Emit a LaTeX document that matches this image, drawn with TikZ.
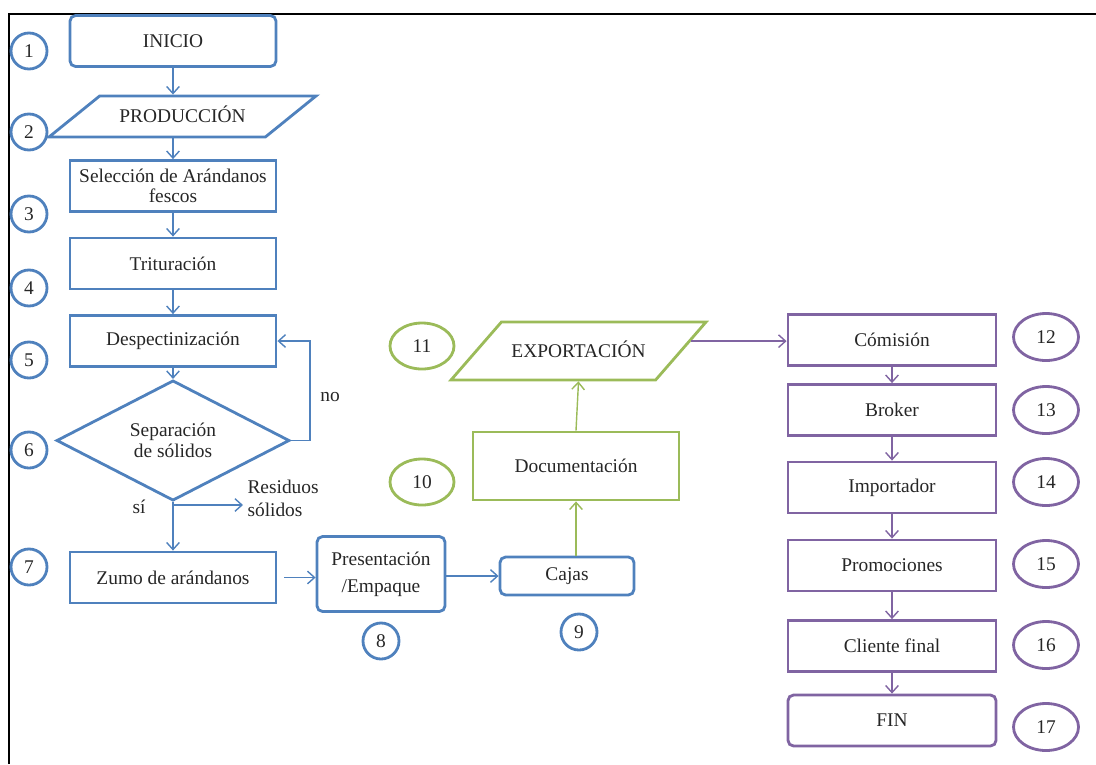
\documentclass[tikz,border=0pt]{standalone}
\usepackage{fontspec}
\setmainfont{Liberation Serif}
\usetikzlibrary{shapes.geometric,arrows.meta}
\definecolor{azul}{RGB}{79,129,189}
\definecolor{verde}{RGB}{155,187,89}
\definecolor{morado}{RGB}{128,100,162}

\begin{document}
\begin{tikzpicture}[x=0.025cm,y=-0.025cm,
  every node/.style={text=black!85,font=\fontsize{13.8}{14.5}\selectfont},
  caja/.style={rectangle,draw=#1,line width=2pt,align=center,inner sep=1pt,
    minimum width=5.15cm,minimum height=1.275cm},
  redonda/.style={caja=#1,rounded corners=4pt},
  datos/.style={trapezium,draw=#1,line width=2pt,inner xsep=1pt,inner ysep=0pt,trapezium stretches body},
  decision/.style={diamond,draw=azul,line width=2pt,align=center,inner sep=0pt,
    minimum width=5.825cm,minimum height=2.325cm},
  num/.style={circle,draw=azul,line width=2pt,minimum size=0.9cm,inner sep=0pt},
  elip/.style={ellipse,draw=#1,line width=2pt,minimum width=1.6cm,minimum height=1.15cm,inner sep=0pt},
  flecha/.style={draw=#1,line width=1pt,-{Straight Barb[length=5pt,width=9pt]}}]
\useasboundingbox (0,0) rectangle (1096,764);
\draw[line width=1pt] (9,764) -- (9,14) -- (1096,14);

\node[redonda=azul] (n1) at (173,41) {INICIO};
\node[datos=azul,trapezium left angle=39,trapezium right angle=141,
  text height=19.2pt,text depth=10pt,minimum width=6.675cm] (n2) at (182.5,116.5) {PRODUCCIÓN};
\node[caja=azul] (n3) at (173,186) {Selección de Arándanos\\fescos};
\node[caja=azul] (n4) at (173,263.5) {Trituración};
\node[caja=azul] (n5) at (173,341) {Despectinización};
\node[decision] (n6) at (173,440.5) {Separación\\de sólidos};
\node[caja=azul] (n7) at (173,577.5) {Zumo de arándanos};
\node[redonda=azul,minimum width=3.2cm,minimum height=1.875cm,
  font=\fontsize{13.8}{19}\selectfont] (n8) at (381,574) {Presentación\\/Empaque};
\node[redonda=azul,minimum width=3.35cm,minimum height=0.95cm] (n9) at (567,576) {Cajas};
\node[caja=verde,minimum height=1.7cm] (n10) at (576,466) {Documentación};
\node[datos=verde,trapezium left angle=49,trapezium right angle=131,
  text height=25.25pt,text depth=16.05pt,minimum width=6.375cm] (n11) at (578.5,351) {EXPORTACIÓN};
\node[caja=morado,minimum width=5.2cm] (n12) at (892,340) {Cómisión};
\node[caja=morado,minimum width=5.2cm] (n13) at (892,410) {Broker};
\node[caja=morado,minimum width=5.2cm] (n14) at (892,487.5) {Importador};
\node[caja=morado,minimum width=5.2cm] (n15) at (892,565.5) {Promociones};
\node[caja=morado,minimum width=5.2cm] (n16) at (892,646) {Cliente final};
\node[redonda=morado,minimum width=5.2cm] (n17) at (892,720.5) {FIN};

\node (no) at (330,397) {no};
\node (si) at (139,507) {sí};
\node[anchor=west,align=left,inner sep=3pt,font=\fontsize{13.8}{16.4}\selectfont] (res) at (243,498) {Residuos\\sólidos};
\coordinate (r) at (173,505);

\node[num] (c1) at (29,51) {1};
\node[num] (c2) at (29,132) {2};
\node[num] (c3) at (29,214) {3};
\node[num] (c4) at (29,288) {4};
\node[num] (c5) at (29,360) {5};
\node[num] (c6) at (29,450) {6};
\node[num] (c7) at (29,567) {7};
\node[num] (c8) at (381,641) {8};
\node[num] (c9) at (579,632) {9};
\node[elip=verde] (c10) at (422,482) {10};
\node[elip=verde] (c11) at (422,346) {11};
\node[elip=morado,minimum width=1.625cm,minimum height=1.175cm] (c12) at (1046,337) {12};
\node[elip=morado,minimum width=1.625cm,minimum height=1.175cm] (c13) at (1046,410) {13};
\node[elip=morado,minimum width=1.625cm,minimum height=1.175cm] (c14) at (1046,482) {14};
\node[elip=morado,minimum width=1.625cm,minimum height=1.175cm] (c15) at (1046,564) {15};
\node[elip=morado,minimum width=1.625cm,minimum height=1.175cm] (c16) at (1046,645) {16};
\node[elip=morado,minimum width=1.625cm,minimum height=1.175cm] (c17) at (1046,727) {17};

\draw[flecha=azul] (n1.south) -- (n1.south |- n2.north);
\draw[flecha=azul] (n3.north |- n2.south) -- (n3.north);
\draw[flecha=azul] (n3) -- (n4);
\draw[flecha=azul] (n4) -- (n5);
\draw[flecha=azul] (n5) -- (n6);
\draw[flecha=azul] (n6.east) -- ++(19,0) |- (n5.east);
\draw[flecha=azul] (n6.south) -- (n7.north);
\draw[flecha=azul] (r) -- (r -| res.west);
\draw[flecha=azul] ([xshift=5pt]n7.east) -- (n8.west |- n7.east);
\draw[flecha=azul] (n8.east |- n9) -- (n9.west);
\draw[flecha=verde] (n9.north -| n10.south) -- (n10.south);
\draw[flecha=verde] (n10.north) -- (n11.south);
\draw[flecha=morado] (n11.5) -- (n11.5 -| n12.west);
\draw[flecha=morado] (n12) -- (n13);
\draw[flecha=morado] (n13) -- (n14);
\draw[flecha=morado] (n14) -- (n15);
\draw[flecha=morado] (n15) -- (n16);
\draw[flecha=morado] (n16) -- (n17);
\end{tikzpicture}
\end{document}
